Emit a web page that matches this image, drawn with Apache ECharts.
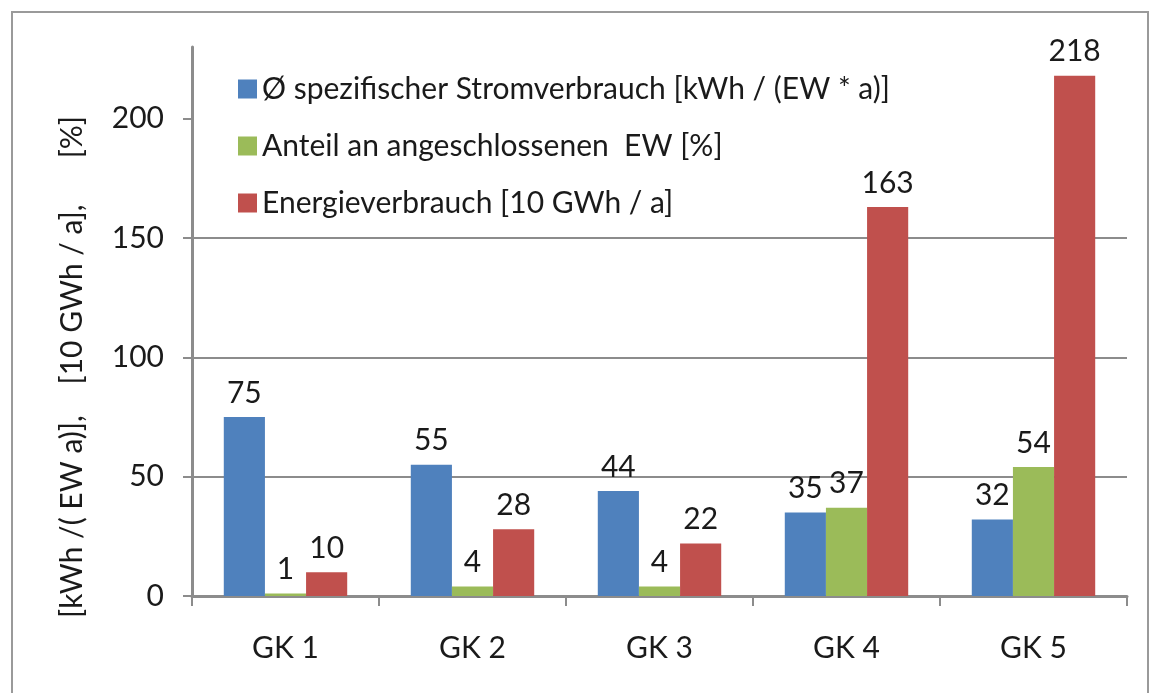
<!DOCTYPE html>
<html>
<head>
<meta charset="utf-8">
<script src="https://cdn.jsdelivr.net/npm/echarts@6/dist/echarts.min.js"></script>
<style>
  html, body { margin: 0; padding: 0; background: #fff; }
  #chart { width: 1152px; height: 693px; }
</style>
</head>
<body>
<div id="chart"></div>
<script>
// data
const categories = ["GK 1", "GK 2", "GK 3", "GK 4", "GK 5"];
const stromVerbrauch = [75, 55, 44, 35, 32];
const anteilEW = [1, 4, 4, 37, 54];
const energieVerbrauch = [10, 28, 22, 163, 218];
const yTicks = [0, 50, 100, 150, 200];

const seriesNames = [
  "Ø spezifischer Stromverbrauch [kWh / (EW * a)]",
  "Anteil an angeschlossenen  EW [%]",
  "Energieverbrauch [10 GWh / a]"
];

const font = "Lato";
const fontSize = 30;

var myChart = echarts.init(document.getElementById("chart"));

function barSeries(name, data, color) {
  return {
    name: name,
    type: "bar",
    data: data,
    barGap: 0,
    barCategoryGap: "34%",
    itemStyle: { color: color },
    label: {
      show: true,
      position: "top",
      distance: 9,
      color: "#1a1a1a",
      fontFamily: font,
      fontSize: fontSize
    }
  };
}

myChart.setOption({
  animation: false,
  textStyle: { fontFamily: font },
  grid: { left: 192, right: 25, top: 47, bottom: 97 },
  legend: {
    orient: "vertical",
    left: 233,
    top: 69,
    itemWidth: 19,
    itemHeight: 19,
    itemGap: 27,
    icon: "rect",
    textStyle: { fontFamily: font, fontSize: fontSize, color: "#1a1a1a" },
    data: seriesNames
  },
  xAxis: {
    type: "category",
    data: categories,
    axisLine: { lineStyle: { color: "#8c8c8c", width: 3 } },
    axisTick: { show: true, length: 10, lineStyle: { color: "#8c8c8c", width: 2 } },
    axisLabel: { color: "#1a1a1a", fontFamily: font, fontSize: fontSize, margin: 37 }
  },
  yAxis: {
    type: "value",
    min: 0,
    max: 230,
    interval: 50,
    axisLine: { show: true, lineStyle: { color: "#8c8c8c", width: 3 } },
    axisTick: { show: true, length: 9, customValues: yTicks, lineStyle: { color: "#8c8c8c", width: 2 } },
    axisLabel: { customValues: yTicks, color: "#1a1a1a", fontFamily: font, fontSize: fontSize, margin: 28 },
    splitLine: { show: true, showMaxLine: false, lineStyle: { color: "#8c8c8c", width: 2 } }
  },
  graphic: [
    {
      type: "rect",
      shape: { x: 12, y: 12, width: 1136, height: 700 },
      style: { fill: null, stroke: "#9a9a9a", lineWidth: 2 },
      silent: true
    },
    {
      type: "text",
      x: 72,
      y: 367,
      rotation: Math.PI / 2,
      style: {
        text: "[kWh /( EW a)],    [10 GWh / a],      [%]",
        fontFamily: font,
        fontSize: fontSize,
        fill: "#1a1a1a",
        align: "center",
        verticalAlign: "middle"
      }
    }
  ],
  series: [
    barSeries(seriesNames[0], stromVerbrauch, "#4F81BD"),
    barSeries(seriesNames[1], anteilEW, "#9BBB59"),
    barSeries(seriesNames[2], energieVerbrauch, "#C0504D")
  ]
});
</script>
</body>
</html>
